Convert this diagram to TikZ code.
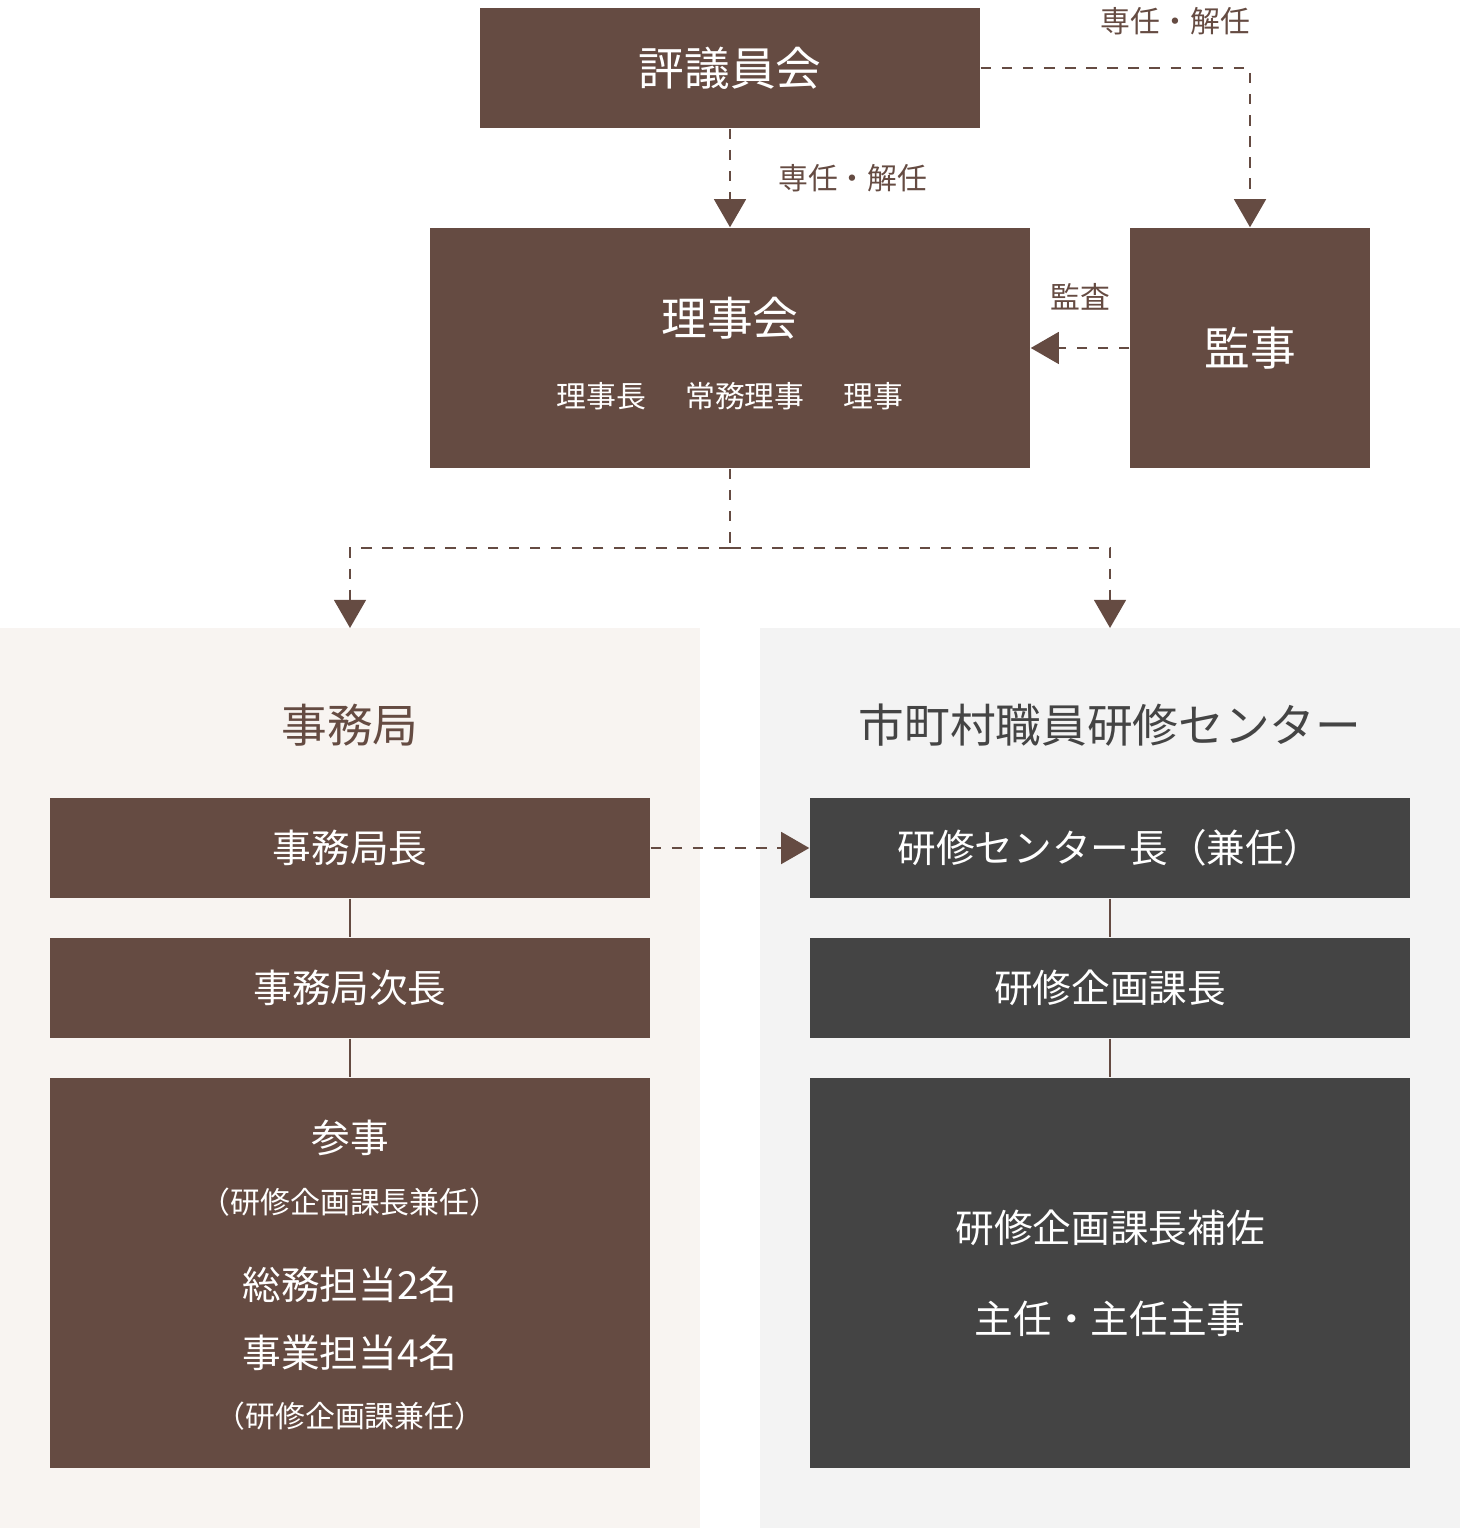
\documentclass[tikz,border=0pt]{standalone}
\usepackage{fontspec}
\setmainfont{Noto Sans CJK JP}
\usetikzlibrary{positioning,arrows.meta}
\definecolor{brn}{HTML}{654B42}
\definecolor{drk}{HTML}{444444}
\definecolor{bgl}{HTML}{F8F4F1}
\definecolor{bgr}{HTML}{F3F3F3}
\tikzset{
  box/.style={fill=brn,text=white,inner sep=0pt,align=center},
  gbox/.style={fill=drk,text=white,inner sep=0pt,align=center},
  link/.style={brn,dashed,thick,-{Triangle[length=8pt,width=9pt]}},
  tie/.style={brn,thick},
  lbl/.style={text=brn,font=\fontsize{8.5}{10}\selectfont}
}
\begin{document}
\begin{tikzpicture}
\useasboundingbox (0,0) rectangle (14.6,-15.28);
% panels
\fill[bgl] (0,-6.28) rectangle (7,-15.28);
\fill[bgr] (7.6,-6.28) rectangle (14.6,-15.28);
% top
\node (hyo)[box,minimum width=5cm,minimum height=1.2cm,font=\fontsize{13}{15}\selectfont] at (7.3,-0.68) {評議員会};
\node (rij)[box,minimum width=6cm,minimum height=2.4cm] at (7.3,-3.48) {};
\node[text=white,font=\fontsize{13}{15}\selectfont] at (7.3,-3.18) {理事会};
\node[text=white,font=\fontsize{8.5}{10}\selectfont] at (7.3,-3.96) {理事長\hspace{1.3em}常務理事\hspace{1.3em}理事};
\node (kan)[box,minimum width=2.4cm,minimum height=2.4cm,font=\fontsize{13}{15}\selectfont] at (12.5,-3.48) {監事};
% left
\node (jkt)[lbl,font=\fontsize{13}{15}\selectfont] at (3.5,-7.25) {事務局};
\node (jk1)[box,minimum width=6cm,minimum height=1cm,font=\fontsize{11}{13}\selectfont] at (3.5,-8.48) {事務局長};
\node (jk2)[box,minimum width=6cm,minimum height=1cm,font=\fontsize{11}{13}\selectfont] at (3.5,-9.88) {事務局次長};
\node (jk3)[box,minimum width=6cm,minimum height=3.9cm] at (3.5,-12.73) {};
\node[text=white,font=\fontsize{11}{13}\selectfont] at (3.5,-11.38) {参事};
\node[text=white,font=\fontsize{8.5}{10}\selectfont] at (3.5,-12.02) {（研修企画課長兼任）};
\node[text=white,font=\fontsize{11}{13}\selectfont] at (3.5,-12.85) {総務担当2名};
\node[text=white,font=\fontsize{11}{13}\selectfont] at (3.5,-13.53) {事業担当4名};
\node[text=white,font=\fontsize{8.5}{10}\selectfont] at (3.5,-14.16) {（研修企画課兼任）};
% right
\node (ctt)[text=drk,font=\fontsize{13}{15}\selectfont] at (11.1,-7.25) {市町村職員研修センター};
\node (ct1)[gbox,minimum width=6cm,minimum height=1cm,font=\fontsize{11}{13}\selectfont] at (11.1,-8.48) {研修センター長（兼任）};
\node (ct2)[gbox,minimum width=6cm,minimum height=1cm,font=\fontsize{11}{13}\selectfont] at (11.1,-9.88) {研修企画課長};
\node (ct3)[gbox,minimum width=6cm,minimum height=3.9cm,font=\fontsize{11}{13}\selectfont] at (11.1,-12.73) {研修企画課長補佐\\[0.45cm]主任・主任主事};
% connectors
\coordinate (hk) at (12.5,-0.68);
\coordinate (mid) at (7.3,-5.48);
\coordinate (ml) at (3.5,-5.48);
\coordinate (mr) at (11.1,-5.48);
\coordinate (pl) at (3.5,-6.28);
\coordinate (pr) at (11.1,-6.28);
\draw[link] (hyo) -- node[lbl,right=0.35cm]{専任・解任} (rij);
\draw[link] (hyo.east) -- (hk) node[lbl,midway,above=0.2cm,xshift=0.6cm]{専任・解任} -- (kan);
\draw[link] (kan) -- node[lbl,above=0.25cm]{監査} (rij);
\draw[brn,dashed,thick] (rij) -- (mid);
\draw[link] (mid) -- (ml) -- (pl);
\draw[link] (mid) -- (mr) -- (pr);
\draw[link] (jk1) -- (ct1);
\draw[tie] (jk1) -- (jk2);
\draw[tie] (jk2) -- (jk3);
\draw[tie] (ct1) -- (ct2);
\draw[tie] (ct2) -- (ct3);
\end{tikzpicture}
\end{document}
